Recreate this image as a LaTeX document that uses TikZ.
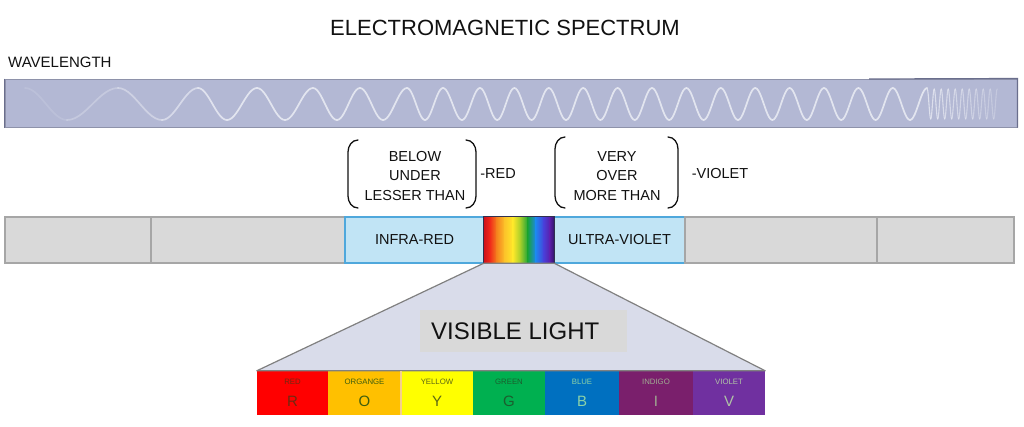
\documentclass[tikz,border=0pt]{standalone}
\usepackage{fontspec}
\setmainfont{Liberation Sans}
\definecolor{wavebar}{HTML}{B3B8D4}
\definecolor{wavebd}{HTML}{8E92AA}
\definecolor{wavedark}{HTML}{6A6E8C}
\definecolor{wavecol}{HTML}{E8EAF3}
\definecolor{graybox}{HTML}{D9D9D9}
\definecolor{graybd}{HTML}{A6A6A6}
\definecolor{bluebox}{HTML}{C1E4F5}
\definecolor{bluebd}{HTML}{4FA8DC}
\definecolor{trapfill}{HTML}{D9DCEA}
\definecolor{trapbd}{HTML}{808080}
\definecolor{rbbd}{HTML}{303050}
\definecolor{oydiv}{HTML}{F5D08A}
\definecolor{cR}{HTML}{FF0000}
\definecolor{cO}{HTML}{FFC000}
\definecolor{cY}{HTML}{FFFF00}
\definecolor{cG}{HTML}{00B050}
\definecolor{cB}{HTML}{0070C0}
\definecolor{cI}{HTML}{7A1F6C}
\definecolor{cV}{HTML}{7030A0}
\definecolor{tR}{HTML}{6E2A12}
\definecolor{tO}{HTML}{3E5E0E}
\definecolor{tY}{HTML}{5E6814}
\definecolor{tG}{HTML}{1B5E2E}
\definecolor{tB}{HTML}{8CD2A8}
\definecolor{tI}{HTML}{A0AC92}
\definecolor{tV}{HTML}{B0C4A6}
\definecolor{txt}{HTML}{111111}
\tikzset{
  segbox/.style={draw=graybd, fill=graybox, line width=1.4pt, inner sep=0pt, minimum height=46pt},
  bluebox/.style={draw=bluebd, fill=bluebox, line width=1.4pt, inner sep=0pt, minimum height=46pt, text=txt, font=\fontsize{14.5}{17}\selectfont},
  colbar/.style={draw=none, inner sep=0pt, minimum height=44pt},
  smalllab/.style={inner sep=0pt, font=\fontsize{7.8}{9}\selectfont},
  biglab/.style={inner sep=0pt, font=\fontsize{15}{18}\selectfont},
  brtext/.style={align=center, inner sep=0pt, text=txt, font=\fontsize{14.5}{19.5}\selectfont},
  brline/.style={draw=txt, line width=1.3pt, line cap=round},
  wave/.style={draw=wavecol, line width=1.7pt, line cap=round}
}
\begin{document}
\begin{tikzpicture}[x=1pt,y=-1pt]
\useasboundingbox (0,0) rectangle (1024,426);
\fill[white] (0,0) rectangle (1024,426);

% title
\node[inner sep=0pt, text=txt, font=\fontsize{22}{26}\selectfont] (title) at (505,28) {ELECTROMAGNETIC SPECTRUM};
\node[inner sep=0pt, anchor=west, text=txt, font=\fontsize{15}{18}\selectfont] (wl) at (8,62) {WAVELENGTH};

% wave bar
\node[draw=wavebd, fill=wavebar, line width=1pt, inner sep=0pt, minimum width=1012pt, minimum height=48pt] (wavebar) at (511,103) {};
\draw[wavedark, line width=1.4pt] (wavebar.north west) -- (wavebar.south west);
\draw[wavedark, line width=1.2pt] (869,79) -- (wavebar.north east) -- (wavebar.south east);

% wave
\foreach \wa/\wb [count=\i] in {25/67, 67/118, 118/162, 162/198, 198/227, 227/257, 257/285, 285/313, 313/337, 337/360, 360/383, 383/407, 407/425, 425/443, 443/462, 462/480} {
  \pgfmathsetmacro\wop{min(0.9,0.17*\i)}
  \pgfmathsetmacro\wth{180*(\i-1)}
  \draw[wave, opacity=\wop] plot[variable=\s, domain=0:180, samples=14] ({\wa+(\wb-\wa)*\s/180},{104-16*cos(\s+\wth)});
}
\foreach \k in {0,...,25} {
  \pgfmathsetmacro\wa{480+17.2*\k}
  \pgfmathsetmacro\wth{180*\k}
  \draw[wave, opacity=0.9] plot[variable=\s, domain=0:180, samples=12] ({\wa+17.2*\s/180},{104-16*cos(\s+\wth)});
}
\foreach \k in {0,...,19} {
  \pgfmathsetmacro\wa{927.2+3.5*\k}
  \pgfmathsetmacro\wth{180*\k}
  \pgfmathsetmacro\wop{0.8-0.025*\k}
  \draw[wave, line width=1.1pt, opacity=\wop] plot[variable=\s, domain=0:180, samples=8] ({\wa+3.5*\s/180},{104-15*cos(\s+\wth)});
}

% brackets and prefixes
\node[brtext] (lowtxt) at (415,176) {BELOW\\UNDER\\LESSER THAN};
\node[brtext] (hightxt) at (617,176) {VERY\\OVER\\MORE THAN};
\draw[brline] (358,140) to[out=180,in=90] (348,152) -- (348,196) to[out=-90,in=180] (358,208);
\draw[brline] (466,140) to[out=0,in=90] (476,152) -- (476,196) to[out=-90,in=0] (466,208);
\draw[brline] (565,137) to[out=180,in=90] (555,149) -- (555,196) to[out=-90,in=180] (565,208);
\draw[brline] (668,137) to[out=0,in=90] (678,149) -- (678,196) to[out=-90,in=0] (668,208);
\node[inner sep=0pt, text=txt, font=\fontsize{14.5}{17}\selectfont] (red) at (498,174) {-RED};
\node[inner sep=0pt, text=txt, font=\fontsize{14.5}{17}\selectfont] (violet) at (720,174) {-VIOLET};

% spectrum bar
\node[draw=wavedark, line width=1.2pt, inner sep=0pt, minimum width=1010pt, minimum height=47pt] (specbar) at (509.5,240) {};
\node[segbox, minimum width=146pt] (g1) at (78,240) {};
\node[segbox, minimum width=194pt] (g2) at (248,240) {};
\node[bluebox, minimum width=139pt] (ir) at (414.5,240) {INFRA-RED};
\node[bluebox, minimum width=131pt] (uv) at (619.5,240) {ULTRA-VIOLET};
\node[segbox, minimum width=192pt] (g3) at (781,240) {};
\node[segbox, minimum width=137pt] (g4) at (945.5,240) {};
\node[inner sep=0pt, minimum width=70pt, minimum height=46pt] (rainbow) at (519,240) {};
\begin{scope}
\clip (rainbow.north west) rectangle (rainbow.south east);
\foreach \xa/\xb/\ca/\cb in {484/490/D0101A/F02A1A, 490/497/F02A1A/F5841E, 497/505/F5841E/FCC52A, 505/513/FCC52A/FFE82A, 513/521/FFE82A/9CCB2A, 521/528/9CCB2A/18A23A, 528/536/18A23A/1E86F0, 536/544/1E86F0/4A3ED8, 544/550/4A3ED8/5A1EA8, 550/554.5/5A1EA8/2A1460} {
  \definecolor{sa}{HTML}{\ca}\definecolor{sb}{HTML}{\cb}
  \shade[left color=sa, right color=sb] (\xa-0.3,210) rectangle (\xb+0.3,270);
}
\end{scope}
\draw[draw=rbbd, line width=1pt] (rainbow.north west) rectangle (rainbow.south east);

% color bars
\node[colbar, fill=cR, minimum width=71pt] (R) at (292.5,393) {};
\node[colbar, fill=cO, minimum width=73pt] (O) at (364.5,393) {};
\node[colbar, fill=cY, minimum width=72pt] (Y) at (437,393) {};
\node[colbar, fill=cG, minimum width=72pt] (G) at (509,393) {};
\node[colbar, fill=cB, minimum width=74pt] (B) at (582,393) {};
\node[colbar, fill=cI, minimum width=74pt] (I) at (656,393) {};
\node[colbar, fill=cV, minimum width=72pt] (V) at (729,393) {};

% trapezoid
\filldraw[fill=trapfill, draw=trapbd, line width=1.2pt, line join=round] (rainbow.south west) -- (rainbow.south east) -- (V.north east) -- (R.north west) -- cycle;
\node[fill=graybox, inner sep=0pt, minimum width=207pt, minimum height=42pt] (vlbox) at (523.5,331) {};
\node[inner sep=0pt, anchor=west, text=txt, font=\fontsize{24}{28}\selectfont] (vl) at (431,331) {VISIBLE LIGHT};

\draw[oydiv, line width=1.5pt] (O.north east) -- (O.south east);

% labels
\foreach \n/\lab/\lt/\tc in {R/RED/R/tR, O/ORGANGE/O/tO, Y/YELLOW/Y/tY, G/GREEN/G/tG, B/BLUE/B/tB, I/INDIGO/I/tI, V/VIOLET/V/tV} {
  \node[smalllab, text=\tc] (\n lab) at ([yshift=-11pt]\n.north) {\lab};
  \node[biglab, text=\tc] (\n let) at ([yshift=-31pt]\n.north) {\lt};
}
\end{tikzpicture}
\end{document}
